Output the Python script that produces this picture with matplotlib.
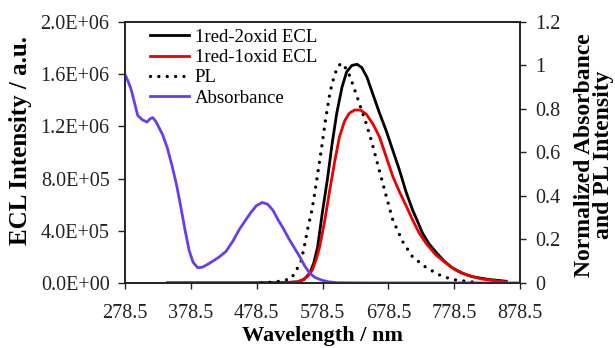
import matplotlib
matplotlib.use("Agg")
import matplotlib.pyplot as plt
from matplotlib.ticker import FuncFormatter, FixedLocator

plt.rcParams['font.family'] = ['Liberation Serif', 'DejaVu Serif']

# ---- data ----
abs_wl = [278.5, 283, 288, 293, 298, 305, 312, 317, 321, 326, 331, 336, 343, 350, 357,
          364, 370, 376, 382, 389, 396, 404, 412, 422, 432, 442, 452, 462, 470, 478,
          487, 495, 503, 511, 519, 528, 536, 544, 551, 559, 567, 578, 588, 600, 650, 878.5]
abs_val = [0.96, 0.93, 0.89, 0.83, 0.77, 0.75, 0.74, 0.755, 0.76, 0.74, 0.71, 0.68, 0.62, 0.54, 0.45,
           0.34, 0.24, 0.15, 0.095, 0.07, 0.072, 0.085, 0.10, 0.12, 0.145, 0.19, 0.245, 0.29, 0.325, 0.355,
           0.37, 0.362, 0.335, 0.29, 0.25, 0.20, 0.16, 0.12, 0.08, 0.045, 0.025, 0.012, 0.005, 0.001, 0.0, 0.0]

pl_wl = [486, 500, 510, 520, 531, 539, 546, 551, 556, 562, 566, 569, 576, 583, 590,
         597, 603, 608, 613, 620, 627, 636, 645, 652, 660, 667, 675, 685, 700, 715,
         736, 760, 780, 797, 810]
pl_val = [0.0, 0.003, 0.006, 0.012, 0.02, 0.06, 0.10, 0.17, 0.25, 0.33, 0.40, 0.46, 0.60, 0.75, 0.88,
          0.96, 1.0, 1.01, 0.99, 0.95, 0.89, 0.81, 0.73, 0.66, 0.57, 0.49, 0.40, 0.29, 0.19, 0.12,
          0.07, 0.03, 0.014, 0.007, 0.003]

ecl2_wl = [343, 450, 520, 540, 550, 559, 565, 571, 578, 586, 593, 600, 608, 615, 623, 631,
           638, 646, 654, 665, 675, 685, 695, 705, 715, 723, 730, 740, 751, 763, 775,
           790, 806, 830, 857]
ecl2_val = [0, 0, 0.002e6, 0.008e6, 0.025e6, 0.075e6, 0.15e6, 0.275e6, 0.533e6, 0.80e6, 1.067e6,
            1.30e6, 1.50e6, 1.617e6, 1.667e6, 1.675e6, 1.65e6, 1.575e6, 1.458e6, 1.30e6, 1.167e6,
            1.017e6, 0.867e6, 0.70e6, 0.56e6, 0.467e6, 0.383e6, 0.30e6, 0.233e6, 0.167e6, 0.117e6,
            0.075e6, 0.047e6, 0.027e6, 0.013e6]

ecl1_wl = [343, 500, 540, 548, 556, 563, 569, 574, 582, 589, 597, 604, 612, 619, 627, 636,
           645, 655, 665, 675, 685, 695, 706, 715, 725, 736, 750, 766, 780, 797, 820, 840, 857]
ecl1_val = [0, 0, 0.007e6, 0.023e6, 0.05e6, 0.10e6, 0.183e6, 0.275e6, 0.483e6, 0.70e6, 0.933e6,
            1.117e6, 1.242e6, 1.30e6, 1.325e6, 1.325e6, 1.292e6, 1.217e6, 1.117e6, 0.967e6,
            0.817e6, 0.70e6, 0.583e6, 0.483e6, 0.383e6, 0.30e6, 0.217e6, 0.15e6, 0.10e6,
            0.062e6, 0.03e6, 0.017e6, 0.008e6]

x_ticks = [278.5, 378.5, 478.5, 578.5, 678.5, 778.5, 878.5]
left_ticks = [0, 0.4e6, 0.8e6, 1.2e6, 1.6e6, 2.0e6]
right_ticks = [0, 0.2, 0.4, 0.6, 0.8, 1.0, 1.2]

# ---- figure ----
fig = plt.figure(figsize=(6.15, 3.48), dpi=100)
ax = fig.add_axes([0.203, 0.187, 0.643, 0.750])
ax2 = ax.twinx()

l1, = ax.plot(ecl2_wl, ecl2_val, color='black', lw=2.0, label='1red-2oxid ECL')
l2, = ax.plot(ecl1_wl, ecl1_val, color='#ee0000', lw=2.0, label='1red-1oxid ECL')
l3, = ax2.plot(pl_wl, pl_val, color='black', lw=2.4, linestyle=(0, (0.01, 2.5)),
               dash_capstyle='round', label='PL')
l4, = ax2.plot(abs_wl, abs_val, color='#6a3cf0', lw=2.0, label='Absorbance')

ax.set_xlim(278.5, 878.5)
ax.set_ylim(0, 2.0e6)
ax2.set_ylim(0, 1.2)
ax.xaxis.set_major_locator(FixedLocator(x_ticks))
ax.set_xticklabels([f"{t:.1f}" for t in x_ticks])
ax.yaxis.set_major_locator(FixedLocator(left_ticks))
ax.yaxis.set_major_formatter(FuncFormatter(lambda v, p: f"{v:.1E}"))
ax2.yaxis.set_major_locator(FixedLocator(right_ticks))
ax2.yaxis.set_major_formatter(FuncFormatter(lambda v, p: f"{v:g}"))

for a in (ax, ax2):
    a.tick_params(direction='out', length=4, width=1, labelsize=14.5, colors='#222222')
    for s in a.spines.values():
        s.set_linewidth(1.2)
        s.set_color('#222222')
ax.tick_params(axis='x', pad=11)
ax.tick_params(axis='y', pad=6, length=5)
ax2.tick_params(axis='y', pad=7)

ax.set_xlabel('Wavelength / nm', fontsize=16, fontweight='bold')
ax.xaxis.set_label_coords(0.5, -0.165)
ax.xaxis.label.set_va('top')
ax.set_ylabel('ECL Intensity / a.u.', fontsize=18, fontweight='bold')
ax.yaxis.set_label_coords(-0.235, 0.544)
ax2.set_ylabel('Normalized Absorbance\nand PL Intensity', fontsize=17, fontweight='bold',
               linespacing=0.9, rotation=90)
ax2.yaxis.set_label_coords(1.136, 0.49)

leg = ax.legend(handles=[l1, l2, l3, l4], loc='upper left', bbox_to_anchor=(0.035, 1.017),
                frameon=False, fontsize=13.5, handlelength=2.1, handletextpad=0.3,
                labelspacing=0.17, borderaxespad=0.2)

fig.savefig('out.png', dpi=100)
